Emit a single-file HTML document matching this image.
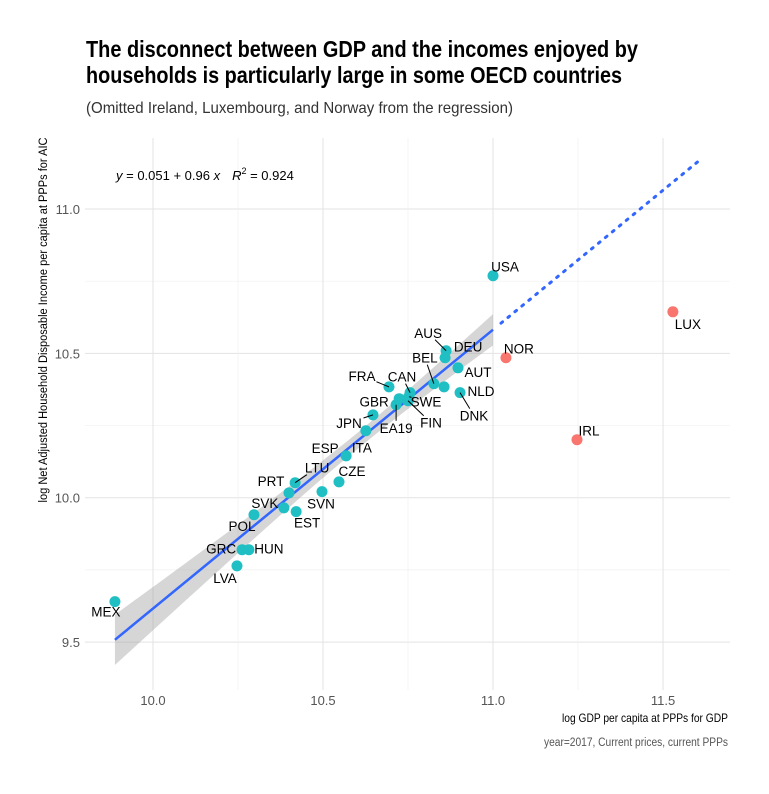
<!DOCTYPE html>
<html><head><meta charset="utf-8">
<style>
body{margin:0;background:#fff;}
svg text{font-family:"Liberation Sans",sans-serif;}
</style></head>
<body>
<svg id="chart" width="769" height="789" xmlns="http://www.w3.org/2000/svg">
<rect width="769" height="789" fill="#fff"/>
<text x="86" y="57" font-size="23" font-weight="bold" fill="#000" textLength="552" lengthAdjust="spacingAndGlyphs">The disconnect between GDP and the incomes enjoyed by</text>
<text x="86" y="83" font-size="23" font-weight="bold" fill="#000" textLength="536" lengthAdjust="spacingAndGlyphs">households is particularly large in some OECD countries</text>
<text x="86" y="113" font-size="16" fill="#333" textLength="427" lengthAdjust="spacingAndGlyphs">(Omitted Ireland, Luxembourg, and Norway from the regression)</text>
<g id="grid"></g>
<g id="band"></g>
<g id="fit"></g>
<g id="pts"></g>
<g id="lbls"></g>
<g id="axes"></g>
<text x="116" y="180" font-size="13" fill="#000"><tspan font-style="italic">y</tspan> = 0.051 + 0.96 <tspan font-style="italic">x</tspan><tspan dx="12" font-style="italic">R</tspan><tspan dy="-6" font-size="9">2</tspan><tspan dy="6"> = 0.924</tspan></text>
<text x="728" y="722" font-size="12" text-anchor="end" fill="#000" textLength="166" lengthAdjust="spacingAndGlyphs">log GDP per capita at PPPs for GDP</text>
<text x="728" y="746" font-size="11.5" text-anchor="end" fill="#555" textLength="184" lengthAdjust="spacingAndGlyphs">year=2017, Current prices, current PPPs</text>
<text transform="translate(47,320) rotate(-90)" font-size="11.5" text-anchor="middle" fill="#000" textLength="365" lengthAdjust="spacingAndGlyphs">log Net Adjusted Household Disposable Income per capita at PPPs for AIC</text>
</svg>
<script>
const countries=["MEX","LVA","GRC","HUN","POL","SVK","EST","PRT","LTU","SVN","CZE","ESP","ITA","JPN","EA19","GBR","CAN","FRA","SWE","FIN","DNK","NLD","AUT","BEL","DEU","AUS","USA","NOR","IRL","LUX"];
const gdp=[9.888,10.247,10.262,10.282,10.297,10.385,10.421,10.400,10.418,10.497,10.547,10.568,10.626,10.647,10.715,10.724,10.756,10.694,10.753,10.750,10.903,10.856,10.897,10.826,10.859,10.862,11.000,11.038,11.247,11.529];
const income=[9.640,9.764,9.820,9.820,9.941,9.965,9.952,10.017,10.052,10.021,10.055,10.145,10.232,10.287,10.322,10.343,10.364,10.384,10.350,10.336,10.364,10.384,10.450,10.395,10.485,10.509,10.769,10.485,10.201,10.644];
const omitted=[0,0,0,0,0,0,0,0,0,0,0,0,0,0,0,0,0,0,0,0,0,0,0,0,0,0,0,1,1,1];
const xTicks=[10.0,10.5,11.0,11.5];
const yTicks=[9.5,10.0,10.5,11.0];
const fitIntercept=-0.044, fitSlope=0.966;
const lblDx=[-9,-12,-21,20,-12,-19,11,-18,22,-1,13,-21,-4,-24,0,-25,-8,-27,17,23,14,37,20,-9,23,-18,12,13,12,15];
const lblDy=[10,12,-1,-1,11,-5,11,-12,-15,12,-11,-8,17,8,23,3,-16,-11,5,22,23,4,4,-26,-11,-18,-9,-9,-9,12];
const lblLine=[0,0,0,0,0,0,0,0,1,0,0,0,0,1,1,0,1,1,1,1,1,0,0,1,0,1,0,0,0,0];

const X0=85,X1=730,Y0=138,Y1=690,xmin=9.8,xmax=11.697,ymin=9.334,ymax=11.246;
const sx=v=>X0+(v-xmin)/(xmax-xmin)*(X1-X0);
const sy=v=>Y1-(v-ymin)/(ymax-ymin)*(Y1-Y0);
const NS="http://www.w3.org/2000/svg";
function mk(tag,attrs,parent){const e=document.createElementNS(NS,tag);for(const k in attrs)e.setAttribute(k,attrs[k]);document.getElementById(parent).appendChild(e);return e;}

for(let v=9.5;v<=11.01;v+=0.25){
  const major=Math.abs(v*2-Math.round(v*2))<1e-6;
  const g=mk('line',{x1:X0,x2:X1,y1:sy(v),y2:sy(v),stroke:major?'#e3e3e3':'#f0f0f0','stroke-width':major?1:0.7},'grid');
  
  
}
for(let v=10.0;v<=11.51;v+=0.25){
  const major=Math.abs(v*2-Math.round(v*2))<1e-6;
  const g=mk('line',{x1:sx(v),x2:sx(v),y1:Y0,y2:Y1,stroke:major?'#e3e3e3':'#f0f0f0','stroke-width':major?1:0.7},'grid');
  
  
}
xTicks.forEach(t=>{
  const e=mk('text',{x:sx(t),y:705,'font-size':13,'text-anchor':'middle',fill:'#555'},'axes');e.textContent=t.toFixed(1);
  
  
});
yTicks.forEach(t=>{
  const e=mk('text',{x:80,y:sy(t)+5,'font-size':13,'text-anchor':'end',fill:'#555'},'axes');e.textContent=t.toFixed(1);
  
  
});
const fx=v=>fitIntercept+fitSlope*v;
const hw=v=>Math.sqrt(0.028*0.028+0.0134*(v-10.6)*(v-10.6));
let fitIdx=[];omitted.forEach((o,i)=>{if(!o)fitIdx.push(i);});
const fmin=Math.min(...fitIdx.map(i=>gdp[i])),fmax=Math.max(...fitIdx.map(i=>gdp[i]));
let up=[],dn=[];
for(let k=0;k<=60;k++){const v=fmin+(fmax-fmin)*k/60;up.push(sx(v)+','+sy(fx(v)+hw(v)));dn.unshift(sx(v)+','+sy(fx(v)-hw(v)));}
const band=mk('polygon',{points:up.concat(dn).join(' '),fill:'#999','fill-opacity':0.4},'band');


const fl=mk('line',{x1:sx(fmin),y1:sy(fx(fmin)),x2:sx(fmax),y2:sy(fx(fmax)),stroke:'#3366ff','stroke-width':2.5},'fit');


const xe=Math.max(...gdp)+0.074;
const fd=mk('line',{x1:sx(fmax)+8,y1:sy(fx(fmax+8/340)),x2:sx(xe),y2:sy(fx(xe)),stroke:'#3366ff','stroke-width':3,'stroke-dasharray':'2 7','stroke-linecap':'round'},'fit');


countries.forEach((c,i)=>{
  const px=sx(gdp[i]),py=sy(income[i]);
  const p=mk('circle',{cx:px,cy:py,r:5.5,fill:omitted[i]?'#F8766D':'#1fbfc4'},'pts');
  
  
  const lx=px+lblDx[i],ly=py+lblDy[i];
  if(lblLine[i]){
    const hwB=c.length*4.5+1,hhB=7;
    const dx=lblDx[i],dy=lblDy[i];
    const s=Math.min(Math.abs(dx)>0?hwB/Math.abs(dx):9,Math.abs(dy)>0?hhB/Math.abs(dy):9,1);
    const l=mk('line',{x1:px,y1:py,x2:lx-dx*s,y2:ly-dy*s,stroke:'#000','stroke-width':1},'lbls');
    
    
  }
  const t=mk('text',{x:lx,y:ly+5,'font-size':13.5,'text-anchor':'middle',fill:'#000'},'lbls');
  t.textContent=c;
  
  
});
</script>
</body></html>
